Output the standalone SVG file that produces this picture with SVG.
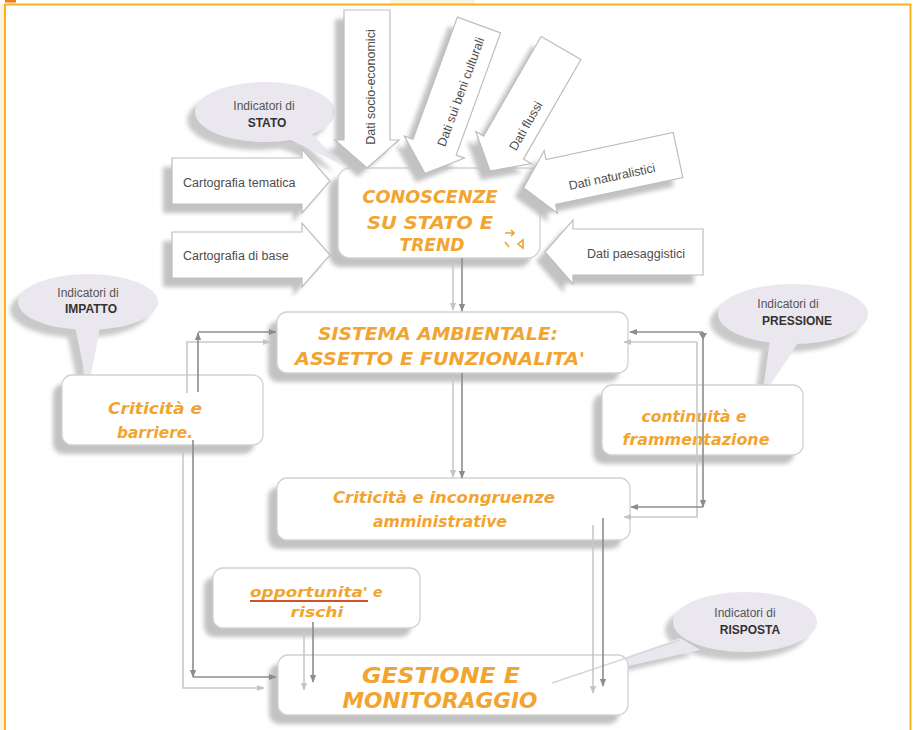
<svg xmlns="http://www.w3.org/2000/svg" width="913" height="730" viewBox="0 0 913 730">
<defs>
<style>
.box{fill:#ffffff;stroke:#d2d2d2;stroke-width:1.3}
.shd{fill:#c2c2c2;filter:url(#blur)}
.arr{fill:#ffffff;stroke:#bdbdbd;stroke-width:1.2}
.bub{fill:#ebe7ef}
.bubs{fill:#c9c9c9;filter:url(#blur)}
.lbl{font-family:"Liberation Sans",Arial,sans-serif;font-size:12.5px;fill:#4d4d4d}
.ind{font-family:"Liberation Sans",Arial,sans-serif;font-size:12px;fill:#555555;text-anchor:middle}
.indb{font-family:"Liberation Sans",Arial,sans-serif;font-size:12px;font-weight:bold;fill:#333333;text-anchor:middle}
.or{font-family:"DejaVu Sans",sans-serif;font-style:oblique;font-weight:bold;fill:#f2a431;text-anchor:middle}
.ors{font-family:"DejaVu Sans",sans-serif;font-style:oblique;font-weight:bold;fill:#f2a431;text-anchor:start}
.cd{fill:none;stroke:#8c8c8c;stroke-width:1.6}
.cl{fill:none;stroke:#c8c8c8;stroke-width:1.6}
</style>
<filter id="blur" x="-20%" y="-20%" width="140%" height="140%"><feGaussianBlur stdDeviation="2"/></filter>
<marker id="ad" viewBox="0 0 10 10" refX="9" refY="5" markerWidth="8" markerHeight="8" markerUnits="userSpaceOnUse" orient="auto"><path d="M0,1 L10,5 L0,9 z" fill="#8c8c8c"/></marker>
<marker id="al" viewBox="0 0 10 10" refX="9" refY="5" markerWidth="8" markerHeight="8" markerUnits="userSpaceOnUse" orient="auto"><path d="M0,1 L10,5 L0,9 z" fill="#c4c4c4"/></marker>
<path id="dataArrow" d="M-23,0 L23,0 L23,130 L32,130 L0,158 L-32,130 L-23,130 Z"/>
<path id="dataArrowS" d="M-23,0 L23,0 L23,115 L32,115 L0,142 L-32,115 L-23,115 Z"/>
</defs>

<!-- frame -->
<rect x="0" y="0" width="913" height="730" fill="#ffffff"/>
<rect x="0" y="4" width="4.5" height="726" fill="#fdf1df"/>
<rect x="390" y="0" width="85" height="4" fill="#fdf3e2"/>
<rect x="5" y="0" width="11" height="2.5" fill="#f07d1a"/>
<path d="M5,730 V4.5 H910.5 V730" fill="none" stroke="#f8b21c" stroke-width="2"/>

<!-- callouts -->
<g id="bubble-stato">
<ellipse class="bubs" cx="257" cy="120" rx="70" ry="30"/>
<path class="bubs" d="M277,146 L302,141 L334,172 Z"/>
<ellipse class="bub" cx="265" cy="112" rx="70" ry="30"/>
<path class="bub" d="M285,137 L310,132 L342,165 Z"/>
<text class="ind" x="264" y="110">Indicatori di</text>
<text class="indb" x="267" y="127">STATO</text>
</g>
<g id="bubble-impatto">
<ellipse class="bubs" cx="80" cy="310" rx="70" ry="28"/>
<path class="bubs" d="M67,334 L92,336 L80,396 Z"/>
<ellipse class="bub" cx="88" cy="302" rx="70" ry="28"/>
<path class="bub" d="M75,326 L100,328 L88,390 Z"/>
<text class="ind" x="88" y="297">Indicatori di</text>
<text class="indb" x="91" y="313">IMPATTO</text>
</g>
<g id="bubble-pressione">
<ellipse class="bubs" cx="785" cy="322" rx="75" ry="30"/>
<path class="bubs" d="M762,348 L792,348 L754,403 Z"/>
<ellipse class="bub" cx="793" cy="314" rx="75" ry="30"/>
<path class="bub" d="M770,340 L800,340 L762,397 Z"/>
<text class="ind" x="788" y="308">Indicatori di</text>
<text class="indb" x="797" y="325">PRESSIONE</text>
</g>

<!-- main nodes -->
<g id="node-conoscenze">
<rect class="shd" x="329" y="177" width="202" height="90" rx="12"/>
<rect class="box" x="338" y="168" width="202" height="90" rx="12"/>
<text class="or" x="430" y="203" font-size="18" textLength="135" lengthAdjust="spacingAndGlyphs">CONOSCENZE</text>
<text class="or" x="430" y="229" font-size="18" textLength="126" lengthAdjust="spacingAndGlyphs">SU STATO E</text>
<text class="or" x="432" y="251" font-size="18" textLength="65" lengthAdjust="spacingAndGlyphs">TREND</text>
<path d="M505,233 L514,233 M511,230 L514,233 L511,236 M505,242 L509,247 M518,244 L523,240 L523,248 Z" fill="none" stroke="#f0a030" stroke-width="1.6"/>
</g>

<g id="data-socio">
<use href="#dataArrow" class="shd" transform="translate(358,19)"/>
<use href="#dataArrow" class="arr" transform="translate(367,10)"/>
<text class="lbl" transform="translate(371,87) rotate(-90)" text-anchor="middle" dominant-baseline="central">Dati socio-economici</text>
</g>
<g id="data-beni">
<use href="#dataArrow" class="shd" transform="translate(470,34) rotate(20)"/>
<use href="#dataArrow" class="arr" transform="translate(479,25) rotate(20)"/>
<text class="lbl" transform="translate(461,92) rotate(-70)" text-anchor="middle" dominant-baseline="central">Dati sui beni culturali</text>
</g>
<g id="data-flussi">
<use href="#dataArrowS" class="shd" transform="translate(552,57) rotate(30)"/>
<use href="#dataArrowS" class="arr" transform="translate(561,48) rotate(30)"/>
<text class="lbl" transform="translate(526,126) rotate(-60)" text-anchor="middle" dominant-baseline="central">Dati flussi</text>
</g>
<g id="data-naturalistici">
<use href="#dataArrow" class="shd" transform="translate(669,164) rotate(78)"/>
<use href="#dataArrow" class="arr" transform="translate(678,155) rotate(78)"/>
<text class="lbl" transform="translate(612,177) rotate(-12)" text-anchor="middle" dominant-baseline="central">Dati naturalistici</text>
</g>
<g id="data-paesaggistici">
<use href="#dataArrow" class="shd" transform="translate(694,261) rotate(90)"/>
<use href="#dataArrow" class="arr" transform="translate(703,252) rotate(90)"/>
<text class="lbl" x="636" y="254" text-anchor="middle" dominant-baseline="central">Dati paesaggistici</text>
</g>
<g id="carto-tematica">
<use href="#dataArrow" class="shd" transform="translate(163,190) rotate(-90)"/>
<use href="#dataArrow" class="arr" transform="translate(172,181) rotate(-90)"/>
<text class="lbl" x="183" y="187">Cartografia tematica</text>
</g>
<g id="carto-base">
<use href="#dataArrow" class="shd" transform="translate(163,264) rotate(-90)"/>
<use href="#dataArrow" class="arr" transform="translate(172,255) rotate(-90)"/>
<text class="lbl" x="183" y="260">Cartografia di base</text>
</g>

<g id="node-sistema">
<rect class="shd" x="268" y="321" width="351" height="61" rx="10"/>
<rect class="box" x="277" y="312" width="351" height="61" rx="10"/>
<text class="or" x="438" y="340" font-size="17" textLength="240" lengthAdjust="spacingAndGlyphs">SISTEMA AMBIENTALE:</text>
<text class="or" x="440" y="365" font-size="17" textLength="290" lengthAdjust="spacingAndGlyphs">ASSETTO E FUNZIONALITA'</text>
</g>
<g id="node-barriere">
<rect class="shd" x="53" y="384" width="201" height="70" rx="10"/>
<rect class="box" x="62" y="375" width="201" height="70" rx="10"/>
<text class="or" x="155" y="414" font-size="16" textLength="94" lengthAdjust="spacingAndGlyphs">Criticità e</text>
<text class="or" x="155" y="438" font-size="16" textLength="76" lengthAdjust="spacingAndGlyphs">barriere.</text>
</g>
<g id="node-continuita">
<rect class="shd" x="593" y="394" width="201" height="70" rx="10"/>
<rect class="box" x="602" y="385" width="201" height="70" rx="10"/>
<text class="or" x="694" y="422" font-size="16" textLength="105" lengthAdjust="spacingAndGlyphs">continuità e</text>
<text class="or" x="696" y="445" font-size="16" textLength="147" lengthAdjust="spacingAndGlyphs">frammentazione</text>
</g>
<g id="node-incongruenze">
<rect class="shd" x="268" y="487" width="353" height="62" rx="10"/>
<rect class="box" x="277" y="478" width="353" height="62" rx="10"/>
<text class="or" x="444" y="503" font-size="15" textLength="222" lengthAdjust="spacingAndGlyphs">Criticità e incongruenze</text>
<text class="or" x="440" y="527" font-size="15" textLength="134" lengthAdjust="spacingAndGlyphs">amministrative</text>
</g>
<g id="node-opportunita">
<rect class="shd" x="204" y="577" width="207" height="60" rx="10"/>
<rect class="box" x="213" y="568" width="207" height="60" rx="10"/>
<text class="ors" x="250" y="597" font-size="14" textLength="118" lengthAdjust="spacingAndGlyphs">opportunita'</text>
<text class="ors" x="373" y="597" font-size="14">e</text>
<line x1="250" y1="601" x2="368" y2="601" stroke="#d4502a" stroke-width="2"/>
<text class="or" x="317" y="617" font-size="14" textLength="53" lengthAdjust="spacingAndGlyphs">rischi</text>
</g>

<g id="bubble-risposta">
<ellipse class="bubs" cx="737" cy="630" rx="72" ry="30"/>
<path class="bubs" d="M672,646 L692,656 L544,690 Z"/>
<ellipse class="bub" cx="745" cy="622" rx="72" ry="30"/>
<path class="bub" d="M680,638 L700,650 L552,683 Z"/>
<text class="ind" x="745" y="617">Indicatori di</text>
<text class="indb" x="750" y="634">RISPOSTA</text>
</g>

<g id="node-gestione">
<rect class="shd" x="269" y="664" width="350" height="60" rx="10"/>
<rect class="box" x="278" y="655" width="350" height="60" rx="10"/>
<path d="M552,683 L680,640" stroke="#d8d8d8" stroke-width="1.5"/>
<text class="or" x="441" y="683" font-size="22" textLength="158" lengthAdjust="spacingAndGlyphs">GESTIONE E</text>
<text class="or" x="440" y="708" font-size="22" textLength="195" lengthAdjust="spacingAndGlyphs">MONITORAGGIO</text>
</g>

<!-- connectors -->
<g id="connectors">
<path class="cl" d="M453,262 V310" marker-end="url(#al)"/>
<path class="cd" d="M462,258 V311" marker-end="url(#ad)"/>
<path class="cl" d="M453,373 V477" marker-end="url(#al)"/>
<path class="cd" d="M462,373 V478" marker-end="url(#ad)"/>

<path class="cl" d="M187,393 V342 H270" marker-end="url(#al)"/>
<path class="cd" d="M198,392 V333" marker-end="url(#ad)"/>
<path class="cd" d="M198,332 H276" marker-end="url(#ad)"/>

<path class="cl" d="M183,450 V688 H264" marker-end="url(#al)"/>
<path class="cd" d="M193,440 V677" marker-end="url(#ad)"/>
<path class="cd" d="M193,677 H276" marker-end="url(#ad)"/>

<path class="cl" d="M697,342 H624" marker-end="url(#al)"/>
<path class="cl" d="M697,342 V517 H624" marker-end="url(#al)"/>
<path class="cd" d="M703,332 H630" marker-end="url(#ad)"/>
<path class="cd" d="M703,332 V507" marker-end="url(#ad)"/>
<path class="cd" d="M703,507 H631" marker-end="url(#ad)"/>
<path d="M699,333 L707,333 L703,340 Z" fill="#8c8c8c"/>

<path class="cl" d="M593,525 V693" marker-end="url(#al)"/>
<path class="cd" d="M603,518 V686" marker-end="url(#ad)"/>
<path class="cl" d="M304,630 V690" marker-end="url(#al)"/>
<path class="cd" d="M313,622 V682" marker-end="url(#ad)"/>
</g>
</svg>
